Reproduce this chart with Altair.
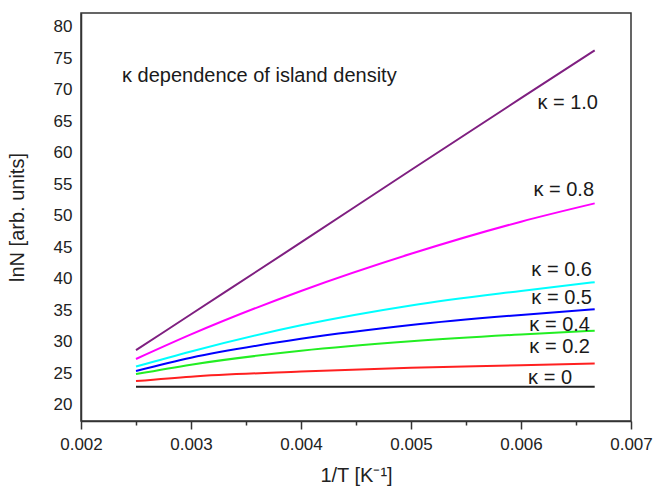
import altair as alt
import pandas as pd

# Inverse temperature grid (1/K) at which each curve is sampled
inv_T = [0.0025, 0.003, 0.004, 0.005, 0.006, 0.00667]

# ln N for each kappa value
kappas = ["1.0", "0.8", "0.6", "0.5", "0.4", "0.2", "0"]
lnN_k10 = [28.7, 34.4, 45.8, 57.3, 68.7, 76.3]
lnN_k08 = [27.3, 31.2, 38.1, 44.0, 49.1, 52.0]
lnN_k06 = [26.1, 28.5, 32.65, 35.8, 38.1, 39.5]
lnN_k05 = [25.4, 27.5, 30.5, 32.7, 34.3, 35.2]
lnN_k04 = [24.9, 26.4, 28.6, 30.1, 31.2, 31.8]
lnN_k02 = [23.8, 24.5, 25.3, 25.9, 26.3, 26.6]
lnN_k00 = [22.9, 22.9, 22.9, 22.9, 22.9, 22.9]
series = [lnN_k10, lnN_k08, lnN_k06, lnN_k05, lnN_k04, lnN_k02, lnN_k00]
colors = ["#7f1f80", "#ff00ff", "#00ffff", "#0000ff", "#22ee22", "#ff2020", "#222222"]

# Curve labels (right edge anchored) and their positions in data space
label_text = ["κ = 1.0", "κ = 0.8", "κ = 0.6", "κ = 0.5", "κ = 0.4", "κ = 0.2", "κ = 0"]
label_x = [0.00670, 0.006664, 0.006645, 0.006645, 0.006627, 0.006627, 0.006464]
label_y = [67.98, 54.1, 41.4, 37.0, 32.7, 29.2, 24.3]

title_text = ["κ dependence of island density"]
title_x = [0.002373]
title_y = [72.2]

x_ticks = [0.002, 0.0025, 0.003, 0.0035, 0.004, 0.0045, 0.005, 0.0055, 0.006, 0.0065, 0.007]
y_ticks = [20, 25, 30, 35, 40, 45, 50, 55, 60, 65, 70, 75, 80]

FONT = "Liberation Sans"

rows = []
for k, vals in zip(kappas, series):
    for x, y in zip(inv_T, vals):
        rows.append({"kappa": k, "invT": x, "lnN": y})
curves = pd.DataFrame(rows)
labels = pd.DataFrame({"text": label_text, "x": label_x, "y": label_y})
heading = pd.DataFrame({"text": title_text, "x": title_x, "y": title_y})

major = "round(datum.value * 10000) % 10 == 0"

x_scale = alt.Scale(domain=[0.002, 0.007], nice=False, zero=False)
y_scale = alt.Scale(domain=[17.46, 82.22], nice=False, zero=False)

x_axis = alt.Axis(
    values=x_ticks,
    labelExpr=f"{major} ? format(datum.value, '.3f') : ''",
    labelOverlap=False,
    labelFlush=False,
    tickSize={"condition": {"test": major, "value": 8}, "value": 4},
    tickColor="#333333",
    tickWidth=1.5,
    grid=False,
    labelFontSize=17,
    labelPadding=7,
    labelColor="#222222",
    labelFont=FONT,
    title="1/T [K⁻¹]",
    titleFontSize=20,
    titleFont=FONT,
    titleFontWeight="normal",
    titleColor="#222222",
    titlePadding=13,
    domainColor="#333333",
    domainWidth=1.5,
)
y_axis = alt.Axis(
    values=y_ticks,
    labelOverlap=False,
    labelFlush=False,
    ticks=False,
    grid=False,
    labelFontSize=17,
    labelPadding=9,
    labelColor="#222222",
    labelFont=FONT,
    title="lnN [arb. units]",
    titleFontSize=20,
    titleFont=FONT,
    titleFontWeight="normal",
    titleColor="#222222",
    titlePadding=26,
    domainColor="#333333",
    domainWidth=1.5,
)

X = lambda field: alt.X(field, scale=x_scale, axis=x_axis)
Y = lambda field: alt.Y(field, scale=y_scale, axis=y_axis)

lines = alt.Chart(curves).mark_line(strokeWidth=2, interpolate="monotone").encode(
    x=X("invT:Q"),
    y=Y("lnN:Q"),
    color=alt.Color("kappa:N", scale=alt.Scale(domain=kappas, range=colors), legend=None),
    detail="kappa:N",
)

curve_labels = alt.Chart(labels).mark_text(
    align="right", baseline="middle", fontSize=20, font=FONT, color="#1a1a1a"
).encode(
    x=X("x:Q"),
    y=Y("y:Q"),
    text="text:N",
)

heading_text = alt.Chart(heading).mark_text(
    align="left", baseline="middle", fontSize=20, font=FONT, color="#1a1a1a"
).encode(
    x=X("x:Q"),
    y=Y("y:Q"),
    text="text:N",
)

chart = (
    alt.layer(lines, curve_labels, heading_text)
    .properties(
        width=550,
        height=408,
        autosize=alt.AutoSizeParams(type="none"),
        padding={"left": 81, "top": 13, "right": 22, "bottom": 67},
        background="white",
    )
    .configure_view(stroke="#333333", strokeWidth=1.5)
)

chart.save("out.html", embed_options={"renderer": "svg", "actions": False})
